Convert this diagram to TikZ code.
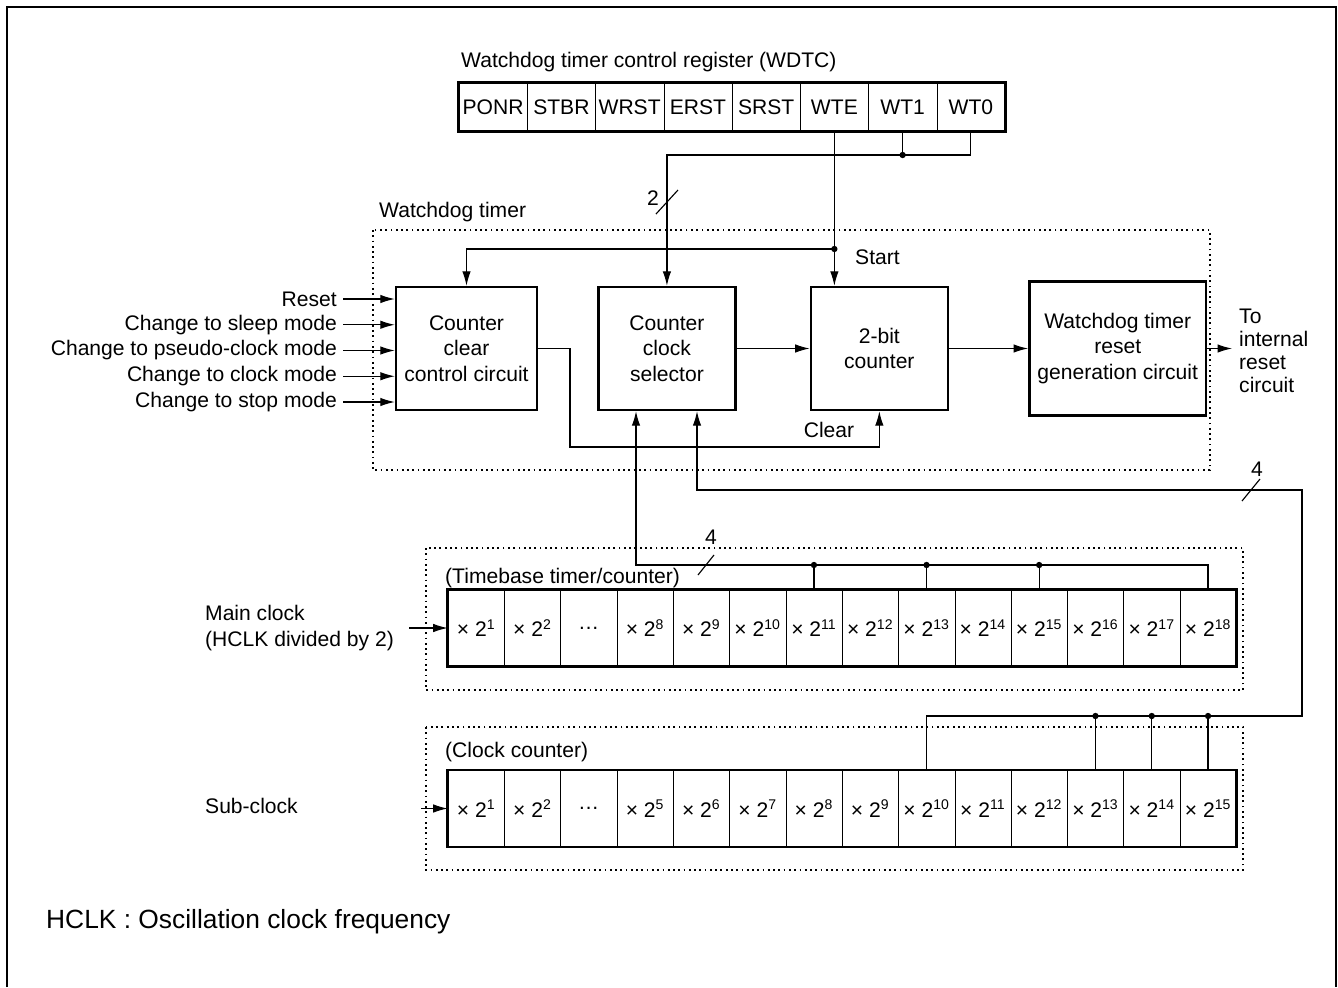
\documentclass[tikz,border=0pt]{standalone}
\usepackage{fontspec}
\setmainfont{Liberation Sans}
\usetikzlibrary{arrows.meta, positioning, calc}

\newcommand{\pw}[1]{× 2\textsuperscript{#1}}

\begin{document}
\begin{tikzpicture}[x=0.02cm, y=-0.02cm,
    font=\fontsize{12}{14.5}\selectfont,
    block/.style={draw, line width=1.4pt, align=center, inner sep=2pt},
    regcell/.style={minimum width=1.365cm, minimum height=0.96cm, inner sep=0pt},
    bitcell/.style={minimum width=1.126cm, minimum height=1.52cm, inner sep=0pt},
    wire/.style={line width=0.65pt},
    arrow/.style={wire, -{Latex[length=2.9mm, width=1.7mm]}},
    group/.style={draw, line width=0.6pt, dash pattern=on 1pt off 2pt},
    joint/.style={circle, fill, inner sep=0pt, minimum size=3.6pt}]

    \useasboundingbox (0,0) rectangle (1338,987);
    \draw[line width=1.6pt] (7,987) -- (7,7) -- (1336,7) -- (1336,987);%outer frame

    %register WDTC
    \node (regtitle) [anchor=west] at (455,62) {Watchdog timer control register (WDTC)};
    \foreach \bit [count=\i] in {PONR,STBR,WRST,ERST,SRST,WTE,WT1,WT0}
        \node (r\i) [regcell] at ({459+68.25*(\i-0.5)},107) {\bit};%one cell per bit
    \foreach \i in {1,...,7}
        \draw[line width=0.6pt] (r\i.north east) -- (r\i.south east);%dividers
    \draw[line width=1.4pt] (r1.north west) rectangle (r8.south east);%outer border of register

    %watchdog timer group and its blocks
    \draw[group] (373,230) rectangle (1210,470);
    \node (wdlabel) [anchor=west] at (373,212) {Watchdog timer};
    \node (ccc) [block, minimum width=2.82cm, minimum height=2.46cm] at (466.5,348.5) {Counter\\clear\\control circuit};
    \node (sel) [block, minimum width=2.74cm, minimum height=2.46cm, right=1.18cm of ccc] {Counter\\clock\\selector};
    \node (cnt) [block, minimum width=2.74cm, minimum height=2.46cm, right=1.46cm of sel] {2-bit\\counter};
    \node (rst) [block, minimum width=3.54cm, minimum height=2.68cm, right=1.58cm of cnt] {Watchdog timer\\reset\\generation circuit};

    \draw[arrow] (sel) -- (cnt);
    \draw[arrow] (cnt) -- (rst);
    \coordinate (outpt) at (1232,348.5);
    \draw[arrow] (rst) -- (outpt);%to internal reset
    \node (outlabel) [anchor=west, align=left, font=\fontsize{12}{13}\selectfont] at (1233,351) {To\\internal\\reset\\circuit};

    %inputs of the clear circuit
    \foreach \txt [count=\i] in {Reset, Change to sleep mode, Change to pseudo-clock mode, Change to clock mode, Change to stop mode} {
        \node (in\i) [anchor=east] at (343,{299+25.75*(\i-1)}) {\txt};
        \draw[arrow] (in\i.east) -- (ccc.west |- in\i.east);
    }

    %WTE line and start
    \coordinate (startrow) at (0,249);
    \coordinate (startpt) at (r6.south |- startrow);
    \draw[arrow] (r6.south) -- (r6.south |- cnt.north);%WTE to 2-bit counter
    \draw[arrow] (startpt) -| (ccc.north);%start to clear circuit
    \node (startdot) [joint] at (startpt) {};
    \node (startlabel) [anchor=west] at (849,257) {Start};

    %WT1, WT0 to selector
    \coordinate (wtrow) at (0,155);
    \coordinate (selbus) at (sel.north |- wtrow);
    \draw[arrow] (r8.south) |- (selbus) -- (sel.north);
    \draw[wire] (r7.south) -- (r7.south |- wtrow);
    \node (wtdot) [joint] at (r7.south |- wtrow) {};
    \coordinate (sl2) at ($(selbus)!0.36!(sel.north)$);
    \draw[wire] (sl2) ++(-11,12) -- ++(22,-24);%bus width mark
    \node (w2) [anchor=east, inner sep=1pt] at ($(sl2)+(-6,-4)$) {2};

    %clear line
    \coordinate (clr) at (570,447);
    \draw[arrow] (ccc.east) -| (clr) -| (cnt.south);
    \node (clearlabel) at (829,430) {Clear};

    %timebase timer/counter
    \draw[group] (426,548) rectangle (1243,690);
    \node (tblabel) [anchor=west] at (439,578) {(Timebase timer/counter)};
    \foreach \e [count=\i] in {\pw{1},\pw{2},\ldots,\pw{8},\pw{9},\pw{10},\pw{11},\pw{12},\pw{13},\pw{14},\pw{15},\pw{16},\pw{17},\pw{18}}
        \node (tb\i) [bitcell] at ({448+56.3*(\i-0.5)},628) {\e};
    \foreach \i in {1,...,13}
        \draw[line width=0.6pt] (tb\i.north east) -- (tb\i.south east);
    \draw[line width=1.4pt] (tb1.north west) rectangle (tb14.south east);
    \node (mainclk) [anchor=west, align=left] at (199,628) {Main clock\\(HCLK divided by 2)};
    \coordinate (mainin) at (409,628);
    \draw[arrow] (mainin) -- (tb1.west);

    \coordinate (tbus) at (636,565);
    \draw[arrow] (tb14.north) |- (tbus) -- (tbus |- sel.south);
    \foreach \k in {7,9,11} {
        \draw[wire] (tb\k.north) -- (tb\k.north |- tbus);
        \node (tbdot\k) [joint] at (tb\k.north |- tbus) {};
    }
    \coordinate (sl4a) at (706,565);
    \draw[wire] (sl4a) ++(-8,10) -- ++(16,-20);
    \node (w4a) at (711,537) {4};

    %clock counter
    \draw[group] (426,727) rectangle (1243,870);
    \node (cclabel) [anchor=west] at (439,752) {(Clock counter)};
    \foreach \e [count=\i] in {\pw{1},\pw{2},\ldots,\pw{5},\pw{6},\pw{7},\pw{8},\pw{9},\pw{10},\pw{11},\pw{12},\pw{13},\pw{14},\pw{15}}
        \node (cc\i) [bitcell] at ({448+56.3*(\i-0.5)},808.5) {\e};
    \foreach \i in {1,...,13}
        \draw[line width=0.6pt] (cc\i.north east) -- (cc\i.south east);
    \draw[line width=1.4pt] (cc1.north west) rectangle (cc14.south east);
    \node (subclk) [anchor=west] at (199,806) {Sub-clock};
    \coordinate (subin) at (421,808.5);
    \draw[arrow] (subin) -- (cc1.west);

    \coordinate (cbus) at (1302,716);
    \coordinate (cturn) at (1302,490);
    \coordinate (cin) at (697,490);
    \draw[arrow] (cc9.north) |- (cbus) -- (cturn) -- (cin) -- (cin |- sel.south);
    \foreach \k in {12,13,14} {
        \draw[wire] (cc\k.north) -- (cc\k.north |- cbus);
        \node (ccdot\k) [joint] at (cc\k.north |- cbus) {};
    }
    \coordinate (sl4b) at (1251,490);
    \draw[wire] (sl4b) ++(-9,11) -- ++(18,-22);
    \node (w4b) at (1257,469) {4};

    \node (note) [anchor=west, font=\fontsize{15}{18}\selectfont] at (40,922) {HCLK : Oscillation clock frequency};
\end{tikzpicture}
\end{document}
